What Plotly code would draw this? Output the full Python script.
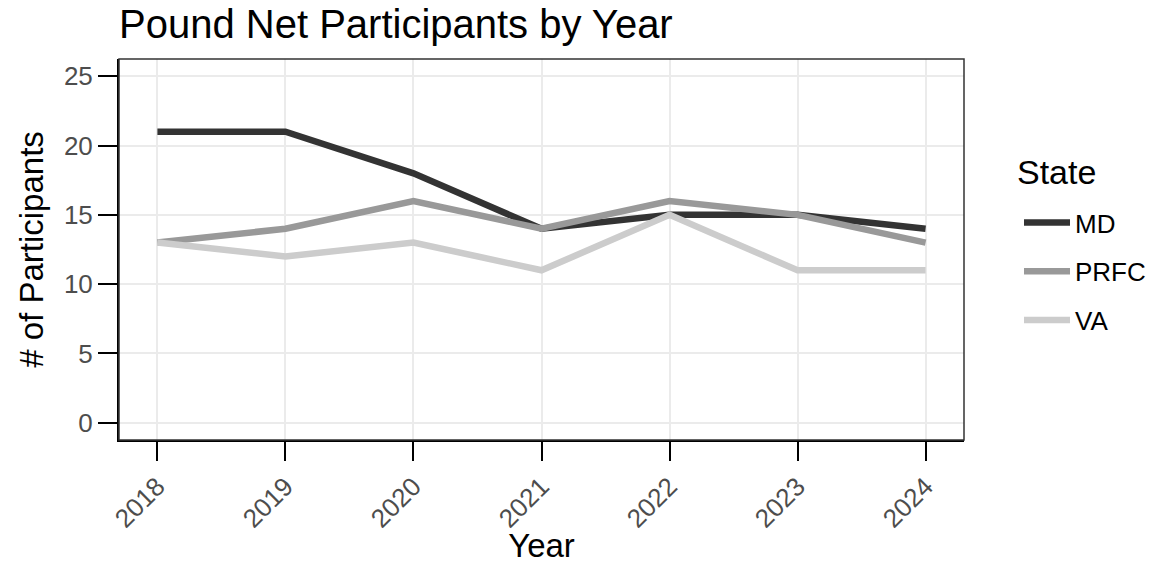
import plotly.graph_objects as go

years = [2018, 2019, 2020, 2021, 2022, 2023, 2024]
states = ["MD", "PRFC", "VA"]
md = [21, 21, 18, 14, 15, 15, 14]
prfc = [13, 14, 16, 14, 16, 15, 13]
va = [13, 12, 13, 11, 15, 11, 11]
y_ticks = [0, 5, 10, 15, 20, 25]

series = {"MD": md, "PRFC": prfc, "VA": va}
colors = {"MD": "#333333", "PRFC": "#999999", "VA": "#CCCCCC"}

FONT = "Liberation Sans, Arial, sans-serif"

fig = go.Figure()
for s in states:
    fig.add_trace(go.Scatter(
        x=years, y=series[s], mode="lines", name=s, legendgroup=s,
        line=dict(color=colors[s], width=6.5),
    ))

fig.update_layout(
    width=1163, height=564,
    margin=dict(l=119, r=199, t=59, b=124),
    paper_bgcolor="white", plot_bgcolor="white",
    font=dict(family=FONT, color="black"),
    title=dict(text="Pound Net Participants by Year", x=119/1163, xanchor="left",
               y=1 - 24/564, yanchor="middle", font=dict(size=40, color="black")),
    showlegend=True,
    legend=dict(
        font=dict(size=26, color="black"),
        x=(1019 - 119) / 845, xanchor="left", y=(440 - 199) / 381, yanchor="top",
        tracegroupgap=12, itemwidth=46,
        bgcolor="rgba(0,0,0,0)",
    ),
    annotations=[dict(text="State", xref="paper", yref="paper",
                      x=(1015 - 119) / 845, xanchor="left",
                      y=(440 - 172) / 381, yanchor="middle",
                      showarrow=False, font=dict(size=34, color="black"))],
)

fig.update_xaxes(
    range=[2017.7, 2024.3], tickmode="array", tickvals=years,
    ticktext=[str(y) for y in years], tickangle=-45,
    tickfont=dict(size=26, color="#4D4D4D"),
    ticks="outside", ticklen=19, tickwidth=2, tickcolor="black",
    showline=True, linecolor="black", linewidth=2,
    showgrid=True, gridcolor="#EBEBEB", gridwidth=1.5,
    zeroline=False, automargin=False,
    title=dict(text="Year", font=dict(size=33, color="black"), standoff=8),
)
fig.update_yaxes(
    range=[-1.25, 26.25], tickmode="array", tickvals=y_ticks,
    tickfont=dict(size=26, color="#4D4D4D"),
    ticks="outside", ticklen=19, tickwidth=2, tickcolor="black",
    showline=True, linecolor="black", linewidth=2,
    showgrid=True, gridcolor="#EBEBEB", gridwidth=1.5,
    zeroline=False, automargin=False,
    title=dict(text="# of Participants", font=dict(size=33, color="black"), standoff=10),
)

# panel border (top/right) as in theme_bw
fig.add_shape(type="rect", xref="paper", yref="paper", x0=0, y0=0, x1=1, y1=1,
              line=dict(color="#333333", width=1.5), fillcolor="rgba(0,0,0,0)", layer="above")

fig.write_html("out.html", config={"displayModeBar": False},
               post_script="document.body.style.margin='0';")
